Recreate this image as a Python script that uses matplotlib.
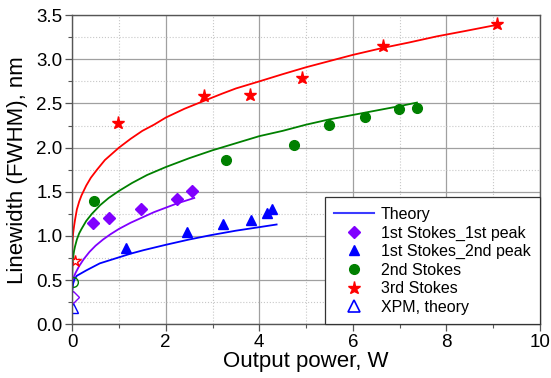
import numpy as np
import matplotlib.pyplot as plt
from matplotlib.lines import Line2D
from matplotlib.ticker import MultipleLocator

plt.rcParams['font.family'] = ['Liberation Sans', 'DejaVu Sans']

# measured points
p1_x = [0.44, 0.78, 1.48, 2.25, 2.57]
p1_y = [1.15, 1.20, 1.31, 1.42, 1.51]
p2_x = [1.16, 2.45, 3.22, 3.83, 4.17, 4.28]
p2_y = [0.86, 1.05, 1.14, 1.18, 1.26, 1.31]
s2_x = [0.46, 3.29, 4.74, 5.49, 6.26, 6.99, 7.37]
s2_y = [1.40, 1.86, 2.03, 2.26, 2.35, 2.44, 2.45]
s3_x = [0.98, 2.82, 3.80, 4.91, 6.65, 9.08]
s3_y = [2.28, 2.59, 2.60, 2.79, 3.15, 3.40]

# theory curves
th_p1_x = [0.0, 0.01, 0.03, 0.07, 0.15, 0.25, 0.37, 0.5, 0.66, 0.82, 1.0,
           1.25, 1.5, 1.75, 2.0, 2.25, 2.61]
th_p1_y = [0.40, 0.48, 0.53, 0.58, 0.66, 0.74, 0.82, 0.89, 0.96, 1.02, 1.08,
           1.15, 1.21, 1.27, 1.32, 1.37, 1.43]
th_p2_x = [0.0, 0.02, 0.05, 0.1, 0.3, 0.59, 0.95, 1.25, 1.53, 2.0, 2.5,
           2.97, 3.5, 4.0, 4.37]
th_p2_y = [0.37, 0.46, 0.51, 0.55, 0.61, 0.69, 0.75, 0.80, 0.84, 0.90, 0.96,
           1.01, 1.06, 1.10, 1.13]
th_s2_x = [0.0, 0.005, 0.01, 0.02, 0.04, 0.06, 0.1, 0.15, 0.2, 0.3, 0.42, 0.6,
           0.78, 1.0, 1.28, 1.6, 2.0, 2.5, 3.0, 3.5, 4.0, 4.5, 5.0, 5.5, 6.0,
           6.5, 7.0, 7.37]
th_s2_y = [0.50, 0.66, 0.71, 0.76, 0.83, 0.88, 0.96, 1.03, 1.08, 1.17, 1.25, 1.35,
           1.43, 1.51, 1.60, 1.69, 1.78, 1.88, 1.97, 2.05, 2.13, 2.19, 2.26, 2.32,
           2.37, 2.42, 2.47, 2.51]
th_s3_x = [0.0, 0.005, 0.01, 0.02, 0.04, 0.06, 0.1, 0.15, 0.2, 0.3, 0.4, 0.53,
           0.7, 0.85, 1.0, 1.25, 1.5, 1.75, 2.0, 2.4, 2.82, 3.2, 3.5, 4.0, 4.49,
           5.0, 5.5, 6.0, 6.65, 7.2, 7.8, 8.4, 9.08]
th_s3_y = [0.72, 0.90, 0.96, 1.03, 1.11, 1.18, 1.30, 1.39, 1.46, 1.57, 1.66, 1.75,
           1.86, 1.93, 2.00, 2.10, 2.19, 2.26, 2.34, 2.44, 2.53, 2.61, 2.67, 2.75,
           2.83, 2.91, 2.98, 3.05, 3.13, 3.19, 3.26, 3.32, 3.39]

# XPM theory values at zero power
xpm_x = [0.02, 0.02, 0.02, 0.05]
xpm_y = [0.19, 0.31, 0.48, 0.72]

red = '#ff0000'
green = '#008000'
blue = '#0000ff'
purple = '#8000ff'

fig, ax = plt.subplots(figsize=(5.51, 3.78), dpi=100)
fig.subplots_adjust(left=0.131, right=0.980, top=0.960, bottom=0.142)

ax.plot(th_s3_x, th_s3_y, color=red, lw=1.3)
ax.plot(th_s2_x, th_s2_y, color=green, lw=1.3)
ax.plot(th_p1_x, th_p1_y, color=purple, lw=1.3)
ax.plot(th_p2_x, th_p2_y, color=blue, lw=1.3)

ax.plot(s3_x, s3_y, '*', color=red, ms=9.5, ls='none')
ax.plot(s2_x, s2_y, 'o', color=green, ms=7, ls='none')
ax.plot(p1_x, p1_y, 'D', color=purple, ms=6.5, ls='none')
ax.plot(p2_x, p2_y, '^', color=blue, ms=7.5, ls='none')

xpm_m = ['^', 'D', 'o', '*']
xpm_c = [blue, purple, green, red]
xpm_s = [7.5, 6, 7, 9]
for x, y, m, c, s in zip(xpm_x, xpm_y, xpm_m, xpm_c, xpm_s):
    ax.plot(x, y, m, mfc='none', mec=c, ms=s, mew=1.0, ls='none')

ax.set_xlim(0, 10)
ax.set_ylim(0, 3.5)
ax.xaxis.set_major_locator(MultipleLocator(2))
ax.xaxis.set_minor_locator(MultipleLocator(1))
ax.yaxis.set_major_locator(MultipleLocator(0.5))
ax.yaxis.set_minor_locator(MultipleLocator(0.25))
ax.yaxis.set_major_formatter(plt.FormatStrFormatter('%.1f'))

ax.grid(which='major', color='#a0a0a0', lw=0.9)
ax.grid(which='minor', color='#c8c8c8', lw=0.8, ls=':')
ax.set_axisbelow(True)

for sp in ax.spines.values():
    sp.set_color('#555555')
    sp.set_linewidth(1.0)
ax.tick_params(which='major', direction='out', length=5, width=0.9, color='#555555',
               labelsize=13.5, pad=2)
ax.tick_params(which='minor', direction='out', length=3, width=0.8, color='#555555')

ax.set_xlabel('Output power, W', fontsize=16, labelpad=0)
ax.set_ylabel('Linewidth (FWHM), nm', fontsize=16, labelpad=6)

handles = [
    Line2D([], [], color='#3c3cff', lw=1.5),
    Line2D([], [], marker='D', color=purple, ms=6.5, ls='none'),
    Line2D([], [], marker='^', color=blue, ms=7.5, ls='none'),
    Line2D([], [], marker='o', color=green, ms=7, ls='none'),
    Line2D([], [], marker='*', color=red, ms=9.5, ls='none'),
    Line2D([], [], marker='^', mfc='none', mec=blue, ms=8, mew=1.2, ls='none'),
]
labels = ['Theory', '1st Stokes_1st peak', '1st Stokes_2nd peak', '2nd Stokes',
          '3rd Stokes', 'XPM, theory']
leg = ax.legend(handles, labels, loc='lower right', fontsize=11.5, frameon=True,
                fancybox=False, edgecolor='#333333', framealpha=1,
                borderaxespad=0.0, handlelength=2.5, labelspacing=0.22,
                handletextpad=0.4, borderpad=0.6)
leg.get_frame().set_linewidth(0.9)

fig.savefig('out.png', dpi=100)
